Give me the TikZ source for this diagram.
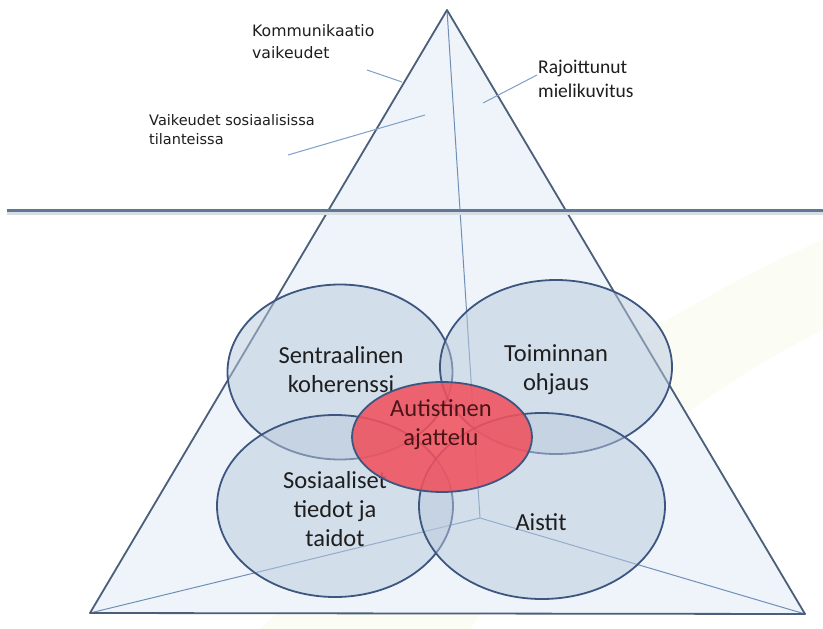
\documentclass[tikz,border=0pt]{standalone}
\usepackage{fontspec}
\setmainfont{Carlito}
\newfontfamily\labfont{DejaVu Sans}
\usetikzlibrary{shapes.geometric}

\definecolor{edgeblue}{HTML}{4B5E7A}
\definecolor{innerblue}{HTML}{6F8FB8}
\definecolor{pyrfill}{HTML}{EFF4FA}
\definecolor{vennfill}{HTML}{B8C9DD}
\definecolor{vennline}{HTML}{3D5680}
\definecolor{autred}{HTML}{F0525E}
\definecolor{textgray}{HTML}{1E1E1E}
\definecolor{auttext}{HTML}{4A1518}
\definecolor{leadblue}{HTML}{7E9FC8}
\definecolor{swoosh}{HTML}{FBFCF4}
\definecolor{waterline}{HTML}{5F7896}

\begin{document}
\begin{tikzpicture}[x=1pt, y=-1pt,
  venn/.style={draw=vennline, line width=1.8pt, ellipse, fill=vennfill, fill opacity=0.5, inner sep=0pt},
  venntext/.style={text=textgray, font=\fontsize{24.5}{29}\selectfont, align=center, anchor=base},
  toplab/.style={text=textgray, align=left, anchor=base west, inner sep=0pt},
  lead/.style={draw=leadblue, line width=1pt}]

\useasboundingbox (0,0) rectangle (823,629);
\fill[white] (0,0) rectangle (823,629);
\fill[swoosh] (260,629) .. controls (480,430) and (680,300) .. (823,240) -- (823,330) .. controls (700,390) and (560,500) .. (470,629) -- cycle;

\coordinate (apex) at (447,10);
\coordinate (bl) at (90,613);
\coordinate (br) at (805,614);
\coordinate (back) at (480,518);

\fill[pyrfill] (apex) -- (bl) -- (br) -- cycle;
\draw[innerblue, line width=1pt] (apex) -- (back) (bl) -- (back) -- (br);
\draw[edgeblue, line width=1.8pt, line join=round] (apex) -- (bl) -- (br) -- cycle;

\coordinate (wl) at (7,210);
\coordinate (wr) at (823,210);
\draw[waterline!25, line width=3pt] ([yshift=-3.5pt]wl) -- ([yshift=-3.5pt]wr);
\draw[waterline, line width=3pt] (wl) -- (wr);

\node[toplab, font=\labfont\fontsize{15.7}{22}\selectfont] (komm) at (252,58) {Kommunikaatio\\vaikeudet};
\node[toplab, font=\labfont\fontsize{14.5}{19}\selectfont] (vaik) at (149,144) {Vaikeudet sosiaalisissa\\tilanteissa};
\node[toplab, font=\fontsize{19.5}{24}\selectfont] (raj) at (538,97) {Rajoittunut\\mielikuvitus};

\coordinate (kommA) at (367,70);
\coordinate (kommB) at (402,82);
\coordinate (vaikA) at (288,155);
\coordinate (vaikB) at (425,115);
\coordinate (rajA) at (537,75);
\coordinate (rajB) at (483,103);
\draw[lead] (kommA) -- (kommB);
\draw[lead] (vaikA) -- (vaikB);
\draw[lead] (rajA) -- (rajB);

\node[venn, minimum width=225pt, minimum height=175pt] (sentr) at (340,372) {};
\node[venn, minimum width=232pt, minimum height=174pt] (toim) at (556,367) {};
\node[venn, minimum width=236pt, minimum height=182pt] (sos) at (335,506) {};
\node[venn, minimum width=246pt, minimum height=186pt] (aist) at (542,506) {};

\node[venntext] (sentrT) at (341,392) {Sentraalinen\\koherenssi};
\node[venntext] (toimT) at (556,390) {Toiminnan\\ohjaus};
\node[venntext] (sosT) at (335,546) {Sosiaaliset\\tiedot ja\\taidot};
\node[venntext] (aistT) at (541,530) {Aistit};

\node[venn, fill=autred, fill opacity=0.88, minimum width=180pt, minimum height=110pt] (aut) at (442,437) {};
\node[venntext, text=auttext] (autT) at (441,445) {Autistinen\\ajattelu};

\end{tikzpicture}
\end{document}
